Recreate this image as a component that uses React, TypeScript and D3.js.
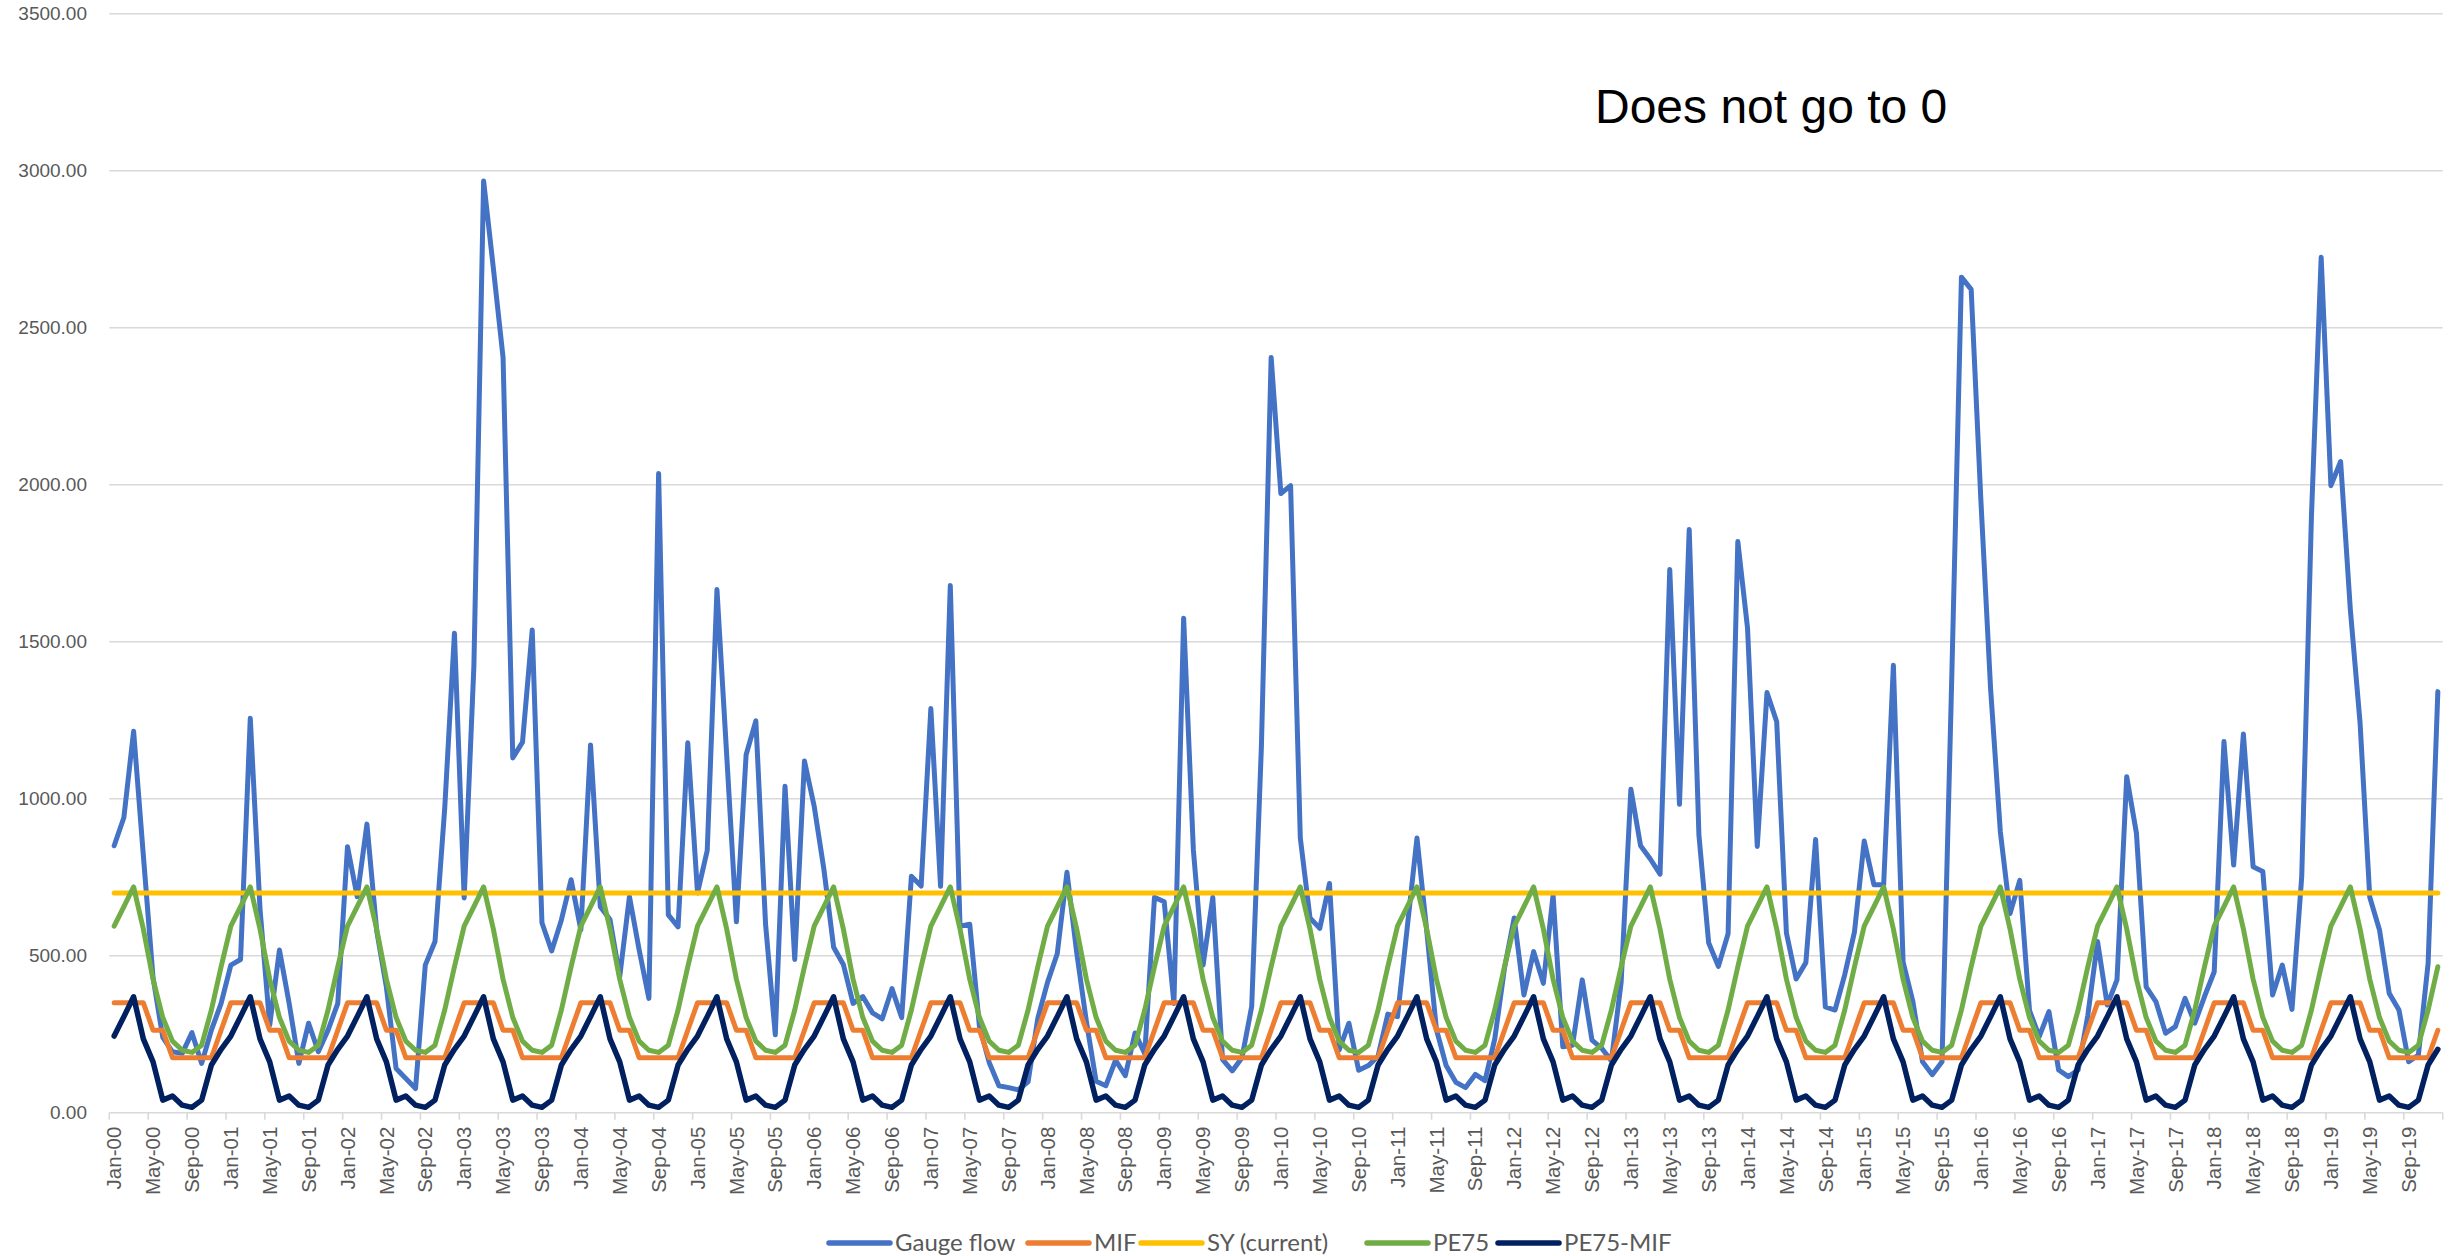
import React from 'react';
import * as d3 from 'd3';

// ---------- data ----------
const monthNames = ['Jan', 'Feb', 'Mar', 'Apr', 'May', 'Jun', 'Jul', 'Aug', 'Sep', 'Oct', 'Nov', 'Dec'];
const yearLabels = ['00', '01', '02', '03', '04', '05', '06', '07', '08', '09', '10', '11', '12', '13', '14', '15', '16', '17', '18', '19'];
const categories = yearLabels.flatMap((y) => monthNames.map((m) => `${m}-${y}`));

const gaugeFlow = [
  850, 940, 1215, 820, 430, 240, 194, 189, 255, 157, 263, 348,
  470, 488, 1256, 650, 279, 518, 348, 157, 285, 194, 263, 348,
  847, 688, 919, 580, 400, 141, 109, 77, 470, 545, 970, 1527,
  684, 1423, 2967, 2690, 2405, 1130, 1180, 1537, 605, 515, 614, 742,
  582, 1171, 656, 615, 433, 688, 518, 364, 2036, 630, 592, 1178,
  700, 835, 1666, 1140, 608, 1140, 1248, 600, 248, 1040, 488, 1120,
  976, 775, 527, 472, 348, 370, 318, 299, 395, 303, 753, 722,
  1287, 721, 1679, 594, 600, 274, 160, 86, 80, 73, 98, 300,
  415, 506, 766, 510, 290, 100, 86, 167, 118, 254, 188, 686,
  672, 348, 1575, 837, 470, 686, 170, 133, 175, 338, 1168, 2405,
  1972, 1997, 875, 620, 587, 730, 200, 285, 135, 150, 180, 314,
  306, 590, 875, 580, 265, 150, 97, 80, 122, 102, 235, 460,
  620, 375, 513, 412, 693, 210, 215, 423, 231, 205, 165, 416,
  1030, 850, 808, 760, 1730, 982, 1857, 884, 541, 466, 570, 1819,
  1543, 848, 1338, 1245, 572, 426, 478, 870, 337, 327, 440, 576,
  865, 726, 726, 1425, 480, 355, 162, 121, 162, 1380, 2661, 2622,
  1950, 1350, 895, 634, 740, 326, 242, 322, 136, 115, 136, 310,
  545, 343, 423, 1070, 890, 401, 354, 253, 274, 364, 285, 370,
  449, 1182, 789, 1206, 783, 768, 375, 470, 329, 752, 1900, 2724,
  1997, 2074, 1602, 1242, 686, 582, 380, 327, 162, 184, 476, 1341,
];

// seasonal series (same every year)
const mifByMonth = [350, 350, 350, 350, 262.5, 262.5, 175, 175, 175, 175, 175, 262.5];
const syCurrent = 700;
const pe75ByMonth = [594, 656, 719, 585, 425, 303, 228, 199, 192, 215, 327, 465];
const pe75MinusMifByMonth = [244, 306, 369, 235, 162, 40, 53, 24, 17, 40, 152, 202];

const yTicks = [0, 500, 1000, 1500, 2000, 2500, 3000, 3500];
const annotation = 'Does not go to 0';

const seriesDefs = [
  { name: 'Gauge flow', color: '#4472C4', values: gaugeFlow, width: 5 },
  { name: 'MIF', color: '#ED7D31', values: categories.map((_, i) => mifByMonth[i % 12]), width: 5 },
  { name: 'SY (current)', color: '#FFC000', values: categories.map(() => syCurrent), width: 5 },
  { name: 'PE75', color: '#70AD47', values: categories.map((_, i) => pe75ByMonth[i % 12]), width: 5 },
  { name: 'PE75-MIF', color: '#002060', values: categories.map((_, i) => pe75MinusMifByMonth[i % 12]), width: 5.5 },
];

// ---------- layout ----------
const W = 2459;
const H = 1256;
const left = 109.3;
const right = 2442.7;
const top = 13.7;
const bottom = 1112.7;
const FONT = '"Liberation Sans", Arial, sans-serif';
const LEGEND_FONT = 'Lato, "Liberation Sans", sans-serif';
const TEXT = '#595959';
const GRID = '#D9D9D9';

const legendLayout = [
  { lineX: 829, textX: 895 },
  { lineX: 1028, textX: 1094 },
  { lineX: 1141, textX: 1207 },
  { lineX: 1367, textX: 1433 },
  { lineX: 1498, textX: 1564 },
];

export default function App() {
  const x = d3.scaleBand<string>().domain(categories).range([left, right]).padding(0);
  const bw = x.bandwidth();
  const cx = (c: string) => (x(c) as number) + bw / 2;
  const y = d3.scaleLinear().domain([0, 3500]).range([bottom, top]);

  const line = d3
    .line<number>()
    .x((_, i) => cx(categories[i]))
    .y((d) => y(d));

  const tickBoundaries = d3.range(0, categories.length + 1, 4).map((i) => left + i * bw);
  const labelCats = categories.filter((_, i) => i % 4 === 0);

  return (
    <svg
      width={W}
      height={H}
      style={{ position: 'absolute', left: 0, top: 0, background: '#ffffff' }}
      xmlns="http://www.w3.org/2000/svg"
    >
      <rect x={0} y={0} width={W} height={H} fill="#ffffff" />
      {yTicks.map((t) => (
        <line key={t} x1={left} x2={right} y1={y(t)} y2={y(t)} stroke={GRID} strokeWidth={1.6} />
      ))}
      {yTicks.map((t) => (
        <text
          key={'yl' + t}
          x={87}
          y={y(t)}
          dy="0.35em"
          textAnchor="end"
          fontFamily={FONT}
          fontSize={19}
          fill={TEXT}
        >
          {d3.format('.2f')(t)}
        </text>
      ))}
      {tickBoundaries.map((bx, i) => (
        <line key={'xt' + i} x1={bx} x2={bx} y1={bottom} y2={bottom + 7} stroke={GRID} strokeWidth={1.6} />
      ))}
      {labelCats.map((c) => (
        <text
          key={'xl' + c}
          transform={`translate(${cx(c)},${bottom + 14}) rotate(-90)`}
          dy="0.35em"
          textAnchor="end"
          fontFamily={FONT}
          fontSize={20.5}
          fill={TEXT}
        >
          {c}
        </text>
      ))}
      {seriesDefs.map((s) => (
        <path
          key={s.name}
          d={line(s.values) as string}
          fill="none"
          stroke={s.color}
          strokeWidth={s.width}
          strokeLinejoin="round"
          strokeLinecap="round"
        />
      ))}
      <text x={1595} y={123} fontFamily={FONT} fontSize={48} fill="#000000">
        {annotation}
      </text>
      {seriesDefs.map((s, i) => (
        <g key={'lg' + s.name}>
          <line
            x1={legendLayout[i].lineX}
            x2={legendLayout[i].lineX + 61}
            y1={1243}
            y2={1243}
            stroke={s.color}
            strokeWidth={5.5}
            strokeLinecap="round"
          />
          <text
            x={legendLayout[i].textX}
            y={1243}
            dy="0.35em"
            fontFamily={LEGEND_FONT}
            fontSize={24}
            fill={TEXT}
          >
            {s.name}
          </text>
        </g>
      ))}
    </svg>
  );
}
